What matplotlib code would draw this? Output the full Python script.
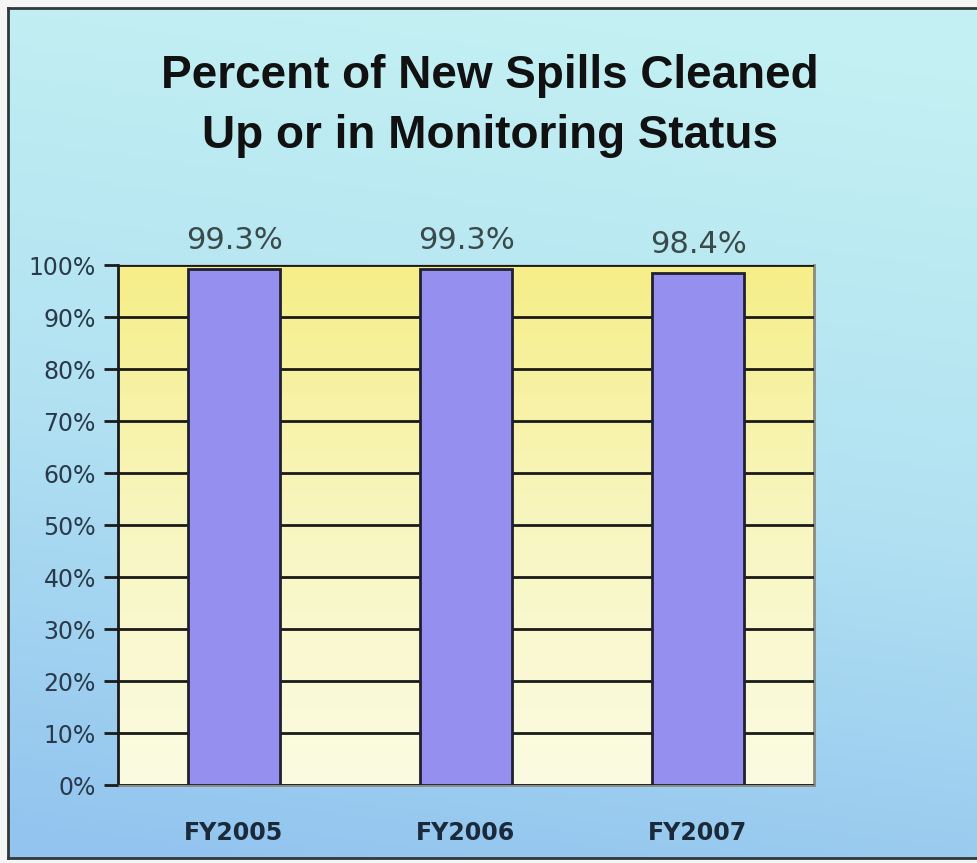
import numpy as np
import matplotlib
matplotlib.use("Agg")
import matplotlib.pyplot as plt
from matplotlib.colors import LinearSegmentedColormap

categories = ["FY2005", "FY2006", "FY2007"]
values = [99.3, 99.3, 98.4]
value_labels = ["99.3%", "99.3%", "98.4%"]
yticks = [0, 10, 20, 30, 40, 50, 60, 70, 80, 90, 100]
ytick_labels = [f"{t}%" for t in yticks]
title = "Percent of New Spills Cleaned\nUp or in Monitoring Status"

W, H = 977, 863
fig = plt.figure(figsize=(W / 100, H / 100), dpi=100)
fig.patch.set_facecolor("#f4f6f6")

# background panel with gradient
bg = fig.add_axes([8 / W, 1 - 858 / H, 1 - 8 / W + 0.01, (858 - 8) / H])
bg.set_xlim(0, 1)
bg.set_ylim(0, 1)
ny, nx = 200, 200
yy, xx = np.mgrid[0:1:ny * 1j, 0:1:nx * 1j]  # yy: 0 at top row
t = np.clip(yy * 0.95 + (1 - xx) * 0.15 - 0.08, 0, 1)
cmap_bg = LinearSegmentedColormap.from_list("bg", ["#c3f0f2", "#b2e2f2", "#92c4ef"])
bg.imshow(t, cmap=cmap_bg, extent=[0, 1, 0, 1], origin="upper", aspect="auto", zorder=0)
for s in ["left", "top", "bottom"]:
    bg.spines[s].set_color("#303838")
    bg.spines[s].set_linewidth(2)
bg.spines["right"].set_visible(False)
bg.set_xticks([])
bg.set_yticks([])

# plot axes
x0, x1 = 118, 814
y0, y1 = 265, 785
ax = fig.add_axes([x0 / W, 1 - y1 / H, (x1 - x0) / W, (y1 - y0) / H])
ax.set_xlim(-0.5, len(categories) - 0.5)
ax.set_ylim(0, 100)
grad = np.linspace(0, 1, 256).reshape(-1, 1)
cmap_pa = LinearSegmentedColormap.from_list("pa", ["#fbfbe2", "#f8f6c0", "#f6ee88"])
ax.imshow(grad, cmap=cmap_pa, extent=[-0.5, len(categories) - 0.5, 0, 100],
          origin="lower", aspect="auto", zorder=0)
ax.set_yticks(yticks)
ax.set_yticklabels(ytick_labels)
ax.yaxis.grid(True, color="#1a1a1a", linewidth=2, zorder=1)
ax.set_axisbelow(False)
x = np.arange(len(categories))
bars = ax.bar(x, values, width=0.4, color="#9590f0", edgecolor="#202030",
              linewidth=2, zorder=3)
for xi, v, lab in zip(x, values, value_labels):
    ax.annotate(lab, (xi, v), xytext=(0, 10), textcoords="offset points",
                ha="center", va="bottom", fontsize=22, color="#3a4a4a",
                family="DejaVu Sans", annotation_clip=False)
ax.set_xticks(x)
ax.set_xticklabels(categories, fontsize=17, fontweight="bold", color="#1a2a3a",
                   family="DejaVu Sans")
ax.tick_params(axis="x", length=0, pad=26)
ax.tick_params(axis="y", length=10, width=2, color="#1a1a1a", labelsize=17,
               labelcolor="#2a3a4a", pad=6)
for lab in ax.get_yticklabels():
    lab.set_family("DejaVu Sans")
ax.spines["left"].set_color("#1a1a1a")
ax.spines["left"].set_linewidth(2)
ax.spines["bottom"].set_color("#8a8a80")
ax.spines["bottom"].set_linewidth(2)
ax.spines["right"].set_color("#8a8a80")
ax.spines["right"].set_linewidth(2)
ax.spines["top"].set_color("#8a8a80")
ax.spines["top"].set_linewidth(1)

fig.text(490 / W, 1 - 106 / H, title, ha="center", va="center", fontsize=33,
         fontweight="bold", family="Liberation Sans", color="#111111",
         linespacing=1.45)

fig.savefig("out.png", dpi=100, facecolor=fig.get_facecolor())
